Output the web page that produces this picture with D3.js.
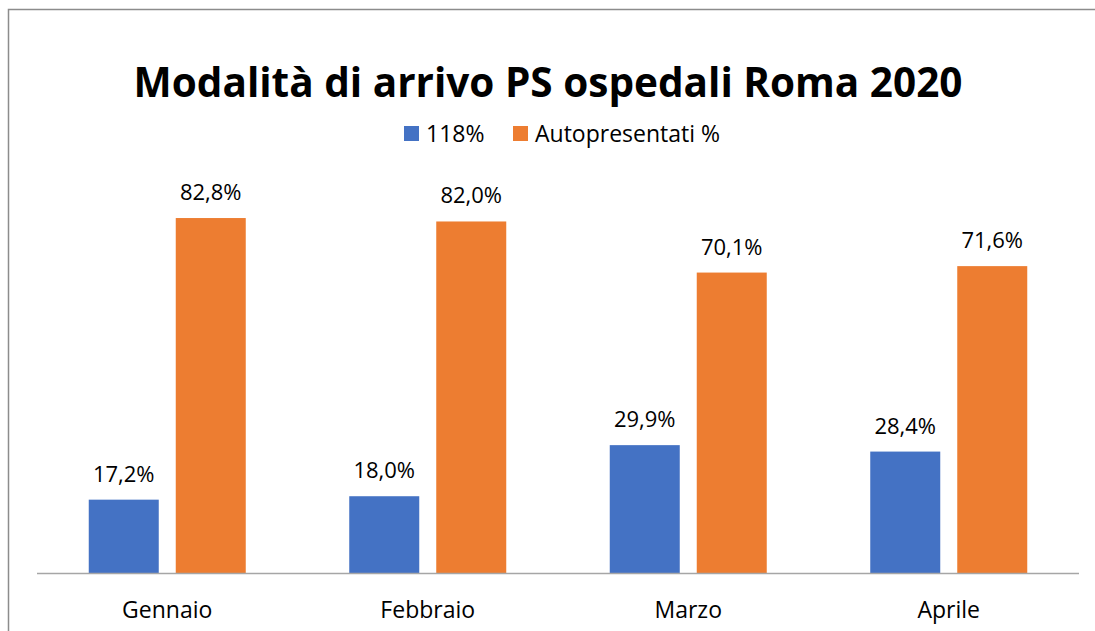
<!DOCTYPE html>
<html>
<head>
<meta charset="utf-8">
<script src="https://cdn.jsdelivr.net/npm/d3@7"></script>
<style>
  body { margin: 0; background: #fff; }
  text { font-family: "Open Sans", sans-serif; fill: #000; }
</style>
</head>
<body>
<div id="root"></div>
<script>
const months = ["Gennaio", "Febbraio", "Marzo", "Aprile"]
const series = ["118%", "Autopresentati %"]
const val118 = [17.2, 18.0, 29.9, 28.4]
const valAuto = [82.8, 82.0, 70.1, 71.6]
const colors = ["#4472C4", "#ED7D31"]

const width = 1095, height = 631
const svg = d3.select("#root").append("svg")
  .attr("width", width)
  .attr("height", height)

// outer frame (only top and left visible in the crop)
svg.append("path")
  .attr("d", `M8.5,${height} L8.5,9.5 L${width},9.5`)
  .attr("fill", "none")
  .attr("stroke", "#8c8c8c")
  .attr("stroke-width", 1.5)

const x0 = 37, x1 = 1079, baseY = 573.5
const x = d3.scaleBand().domain(months).range([x0, x1]).paddingInner(0).paddingOuter(0)
const y = d3.scaleLinear().domain([0, 90]).range([baseY, baseY - 90 * 4.293])

const barW = 70, gap = 17
const rows = months.map((m, i) => ({m, vals: [val118[i], valAuto[i]]}))

const fmt = v => d3.format(".1f")(v).replace(".", ",") + "%"

const grp = svg.selectAll("g.cat").data(rows).enter().append("g")
  .attr("class", "cat")
  .attr("transform", d => `translate(${x(d.m) + x.bandwidth() / 2},0)`)

grp.each(function(d) {
  const g = d3.select(this)
  d.vals.forEach((v, k) => {
    const bx = k === 0 ? -(gap / 2 + barW) : gap / 2
    g.append("rect")
      .attr("x", bx)
      .attr("y", y(v))
      .attr("width", barW)
      .attr("height", baseY - y(v))
      .attr("fill", colors[k])
    g.append("text")
      .attr("x", bx + barW / 2)
      .attr("y", y(v) - 18)
      .attr("text-anchor", "middle")
      .attr("font-size", 22)
      .text(fmt(v))
  })
})

// baseline
svg.append("line")
  .attr("x1", x0).attr("x2", x1)
  .attr("y1", baseY).attr("y2", baseY)
  .attr("stroke", "#a6a6a6")
  .attr("stroke-width", 1.5)

// category labels
svg.selectAll("text.cat").data(months).enter().append("text")
  .attr("class", "cat")
  .attr("x", d => x(d) + x.bandwidth() / 2)
  .attr("y", 618)
  .attr("text-anchor", "middle")
  .attr("font-size", 23)
  .text(d => d)

// title, fitted to the width it takes in the original
const title = svg.append("text")
  .attr("x", 548)
  .attr("y", 97)
  .attr("text-anchor", "middle")
  .attr("font-weight", "bold")
  .attr("font-size", 40)
  .text("Modalità di arrivo PS ospedali Roma 2020")
const tw = title.node().getComputedTextLength()
title.attr("font-size", 40 * 829 / tw)

// legend
const legX = [404, 513]
series.forEach((s, k) => {
  svg.append("rect")
    .attr("x", legX[k]).attr("y", 126)
    .attr("width", 15).attr("height", 15)
    .attr("fill", colors[k])
  svg.append("text")
    .attr("x", legX[k] + 22)
    .attr("y", 142)
    .attr("font-size", 23)
    .text(s)
})
</script>
</body>
</html>
